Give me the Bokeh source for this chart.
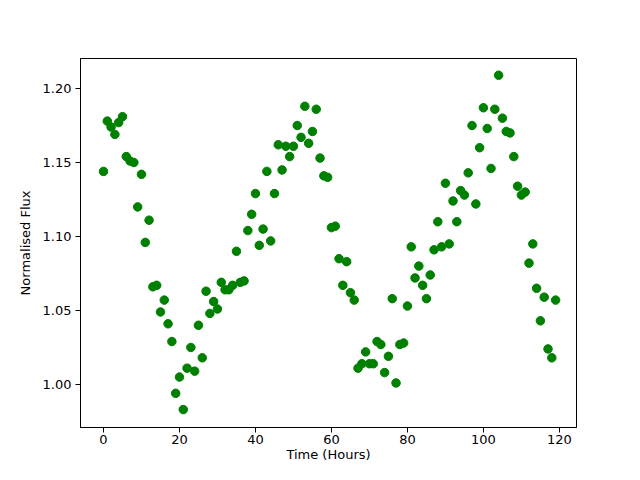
from bokeh.plotting import figure
from bokeh.models import Range1d, FixedTicker, NumeralTickFormatter
from bokeh.embed import file_html
from bokeh.resources import INLINE

hours = list(range(120))
flux = [
    1.144, 1.178, 1.174, 1.169, 1.177, 1.181, 1.154, 1.151, 1.150, 1.120,
    1.142, 1.096, 1.111, 1.066, 1.067, 1.049, 1.057, 1.041, 1.029, 0.994,
    1.005, 0.983, 1.011, 1.025, 1.009, 1.040, 1.018, 1.063, 1.048, 1.056,
    1.051, 1.069, 1.064, 1.064, 1.067, 1.090, 1.069, 1.070, 1.104, 1.115,
    1.129, 1.094, 1.105, 1.144, 1.097, 1.129, 1.162, 1.145, 1.161, 1.154,
    1.161, 1.175, 1.167, 1.188, 1.163, 1.171, 1.186, 1.153, 1.141, 1.140,
    1.106, 1.107, 1.085, 1.067, 1.083, 1.062, 1.057, 1.011, 1.014, 1.022,
    1.014, 1.014, 1.029, 1.027, 1.008, 1.019, 1.058, 1.001, 1.027, 1.028,
    1.053, 1.093, 1.072, 1.080, 1.067, 1.058, 1.074, 1.091, 1.110, 1.093,
    1.136, 1.095, 1.124, 1.110, 1.131, 1.128, 1.143, 1.175, 1.122, 1.160,
    1.187, 1.173, 1.146, 1.186, 1.209, 1.180, 1.171, 1.170, 1.154, 1.134,
    1.128, 1.130, 1.082, 1.095, 1.065, 1.043, 1.059, 1.024, 1.018, 1.057,
]
x_ticks = [0, 20, 40, 60, 80, 100, 120]
y_ticks = [1.00, 1.05, 1.10, 1.15, 1.20]

p = figure(width=624, height=464, output_backend="svg", toolbar_location=None,
           x_range=Range1d(-6.05, 124.5), y_range=Range1d(0.9709, 1.2203),
           min_border_left=80, min_border_right=48, min_border_top=58, min_border_bottom=37)
p.scatter(hours, flux, size=8.5, color="#008000")

p.xgrid.visible = False
p.ygrid.visible = False
p.outline_line_color = "black"
p.outline_line_width = 1
p.background_fill_color = "white"
p.border_fill_color = "white"

p.xaxis.ticker = FixedTicker(ticks=x_ticks)
p.yaxis.ticker = FixedTicker(ticks=y_ticks)
p.yaxis.formatter = NumeralTickFormatter(format="0.00")
p.xaxis.axis_label = "Time (Hours)"
p.yaxis.axis_label = "Normalised Flux"
for ax in (p.xaxis[0], p.yaxis[0]):
    ax.axis_line_color = "black"
    ax.major_tick_line_color = "black"
    ax.major_tick_out = 5
    ax.major_tick_in = 0
    ax.minor_tick_line_color = None
    ax.major_label_text_font = "DejaVu Sans"
    ax.major_label_text_font_size = "13px"
    ax.major_label_text_color = "black"
    ax.axis_label_text_font = "DejaVu Sans"
    ax.axis_label_text_font_size = "13px"
    ax.axis_label_text_font_style = "normal"
    ax.axis_label_text_color = "black"
p.xaxis.major_label_standoff = 2
p.yaxis.major_label_standoff = 4
p.xaxis.axis_label_standoff = 0
p.yaxis.axis_label_standoff = 7

open("out.html", "w").write(file_html(p, INLINE))
